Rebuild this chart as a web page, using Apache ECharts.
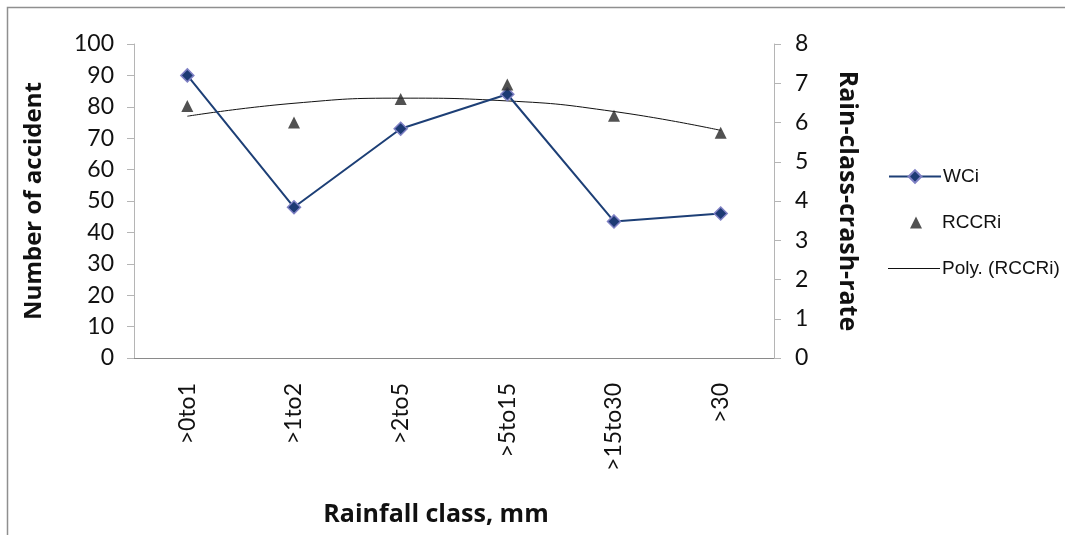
<!DOCTYPE html>
<html>
<head>
<meta charset="utf-8">
<script src="https://cdn.jsdelivr.net/npm/echarts@6/dist/echarts.min.js"></script>
<style>
  html, body { margin: 0; padding: 0; background: #ffffff; }
  #chart { width: 1065px; height: 535px; }
</style>
</head>
<body>
<div id="chart"></div>
<script>
// Rainfall classes (mm)
const rainClasses = ['>0to1', '>1to2', '>2to5', '>5to15', '>15to30', '>30'];
// Number of accidents per rainfall class
const wciValues = [90, 48, 73, 84, 43.5, 46];
// Rain-class crash rate per class
const rccriValues = [6.42, 6.0, 6.6, 6.97, 6.17, 5.74];
// Second-order polynomial trend of the crash rate, evaluated at each class
const rccriTrend = [6.16, 6.49, 6.62, 6.55, 6.28, 5.80];
// Axis ticks
const leftTicks = { min: 0, max: 100, interval: 10 };
const rightTicks = { min: 0, max: 8, interval: 1 };

const labelFont = 'Lato, "Open Sans", sans-serif';
const titleFont = '"Open Sans", Lato, sans-serif';
const legendFont = '"Liberation Sans", Arial, sans-serif';
const axisGray = '#b5b5b5';

const legendText = { fontFamily: legendFont, fontSize: 19, color: '#111' };

const chart = echarts.init(document.getElementById('chart'), null, { renderer: 'canvas' });

chart.setOption({
  backgroundColor: '#ffffff',
  animation: false,
  graphic: [{
    type: 'polyline',
    silent: true,
    shape: { points: [[7.5, 535], [7.5, 7.5], [1065, 7.5]] },
    style: { stroke: '#8f8f8f', lineWidth: 1.5, fill: null }
  }],
  grid: { left: 134, right: 291, top: 44, bottom: 177 },
  legend: [{
    left: 883,
    top: 162,
    itemWidth: 52,
    itemHeight: 16,
    textStyle: Object.assign({ padding: [0, 0, 0, -3] }, legendText),
    data: ['WCi']
  }, {
    left: 905,
    top: 208,
    itemWidth: 12,
    itemHeight: 12,
    textStyle: Object.assign({ padding: [0, 0, 0, 15] }, legendText),
    data: [{ name: 'RCCRi', icon: 'triangle' }]
  }, {
    left: 883,
    top: 254,
    itemWidth: 52,
    itemHeight: 1,
    textStyle: Object.assign({ padding: [0, 0, 0, -3] }, legendText),
    data: [{ name: 'Poly. (RCCRi)', icon: 'rect' }]
  }],
  xAxis: {
    type: 'category',
    data: rainClasses,
    boundaryGap: true,
    axisLine: { lineStyle: { color: '#8a8a8a', width: 1 } },
    axisTick: { show: false },
    axisLabel: {
      rotate: 90,
      margin: 25,
      fontFamily: labelFont,
      fontSize: 23,
      color: '#111'
    },
    name: 'Rainfall class, mm',
    nameLocation: 'middle',
    nameGap: 144,
    nameTextStyle: { fontFamily: titleFont, fontSize: 25, fontWeight: 'bold', color: '#111', padding: [0, 36, 0, 0] }
  },
  yAxis: [{
    type: 'value',
    min: leftTicks.min,
    max: leftTicks.max,
    interval: leftTicks.interval,
    position: 'left',
    splitLine: { show: false },
    axisLine: { show: true, lineStyle: { color: axisGray, width: 1 } },
    axisTick: { show: true, length: 7, lineStyle: { color: axisGray } },
    axisLabel: { margin: 20, fontFamily: labelFont, fontSize: 23, color: '#111' },
    name: 'Number of accident',
    nameLocation: 'middle',
    nameGap: 88,
    nameTextStyle: { fontFamily: titleFont, fontSize: 24, fontWeight: 'bold', color: '#111' }
  }, {
    type: 'value',
    min: rightTicks.min,
    max: rightTicks.max,
    interval: rightTicks.interval,
    position: 'right',
    splitLine: { show: false },
    axisLine: { show: true, lineStyle: { color: axisGray, width: 1 } },
    axisTick: { show: true, length: 7, lineStyle: { color: axisGray } },
    axisLabel: { margin: 21, fontFamily: labelFont, fontSize: 23, color: '#111' },
    name: 'Rain-class-crash-rate',
    nameLocation: 'middle',
    nameRotate: -90,
    nameGap: 61,
    nameTextStyle: { fontFamily: titleFont, fontSize: 25, fontWeight: 'bold', color: '#111' }
  }],
  series: [{
    name: 'WCi',
    type: 'line',
    yAxisIndex: 0,
    data: wciValues,
    symbol: 'diamond',
    symbolSize: 13,
    lineStyle: { color: '#1d3f76', width: 2 },
    itemStyle: { color: '#1d3a74', borderColor: '#7f80c4', borderWidth: 1.5 },
    z: 3
  }, {
    name: 'RCCRi',
    type: 'scatter',
    yAxisIndex: 1,
    data: rccriValues,
    symbol: 'triangle',
    symbolSize: 12,
    itemStyle: { color: '#262626' },
    z: 4
  }, {
    name: 'Poly. (RCCRi)',
    type: 'line',
    yAxisIndex: 1,
    data: rccriTrend,
    smooth: true,
    symbol: 'none',
    lineStyle: { color: '#111111', width: 1 },
    itemStyle: { color: '#111111' },
    z: 2
  }]
});
</script>
</body>
</html>
